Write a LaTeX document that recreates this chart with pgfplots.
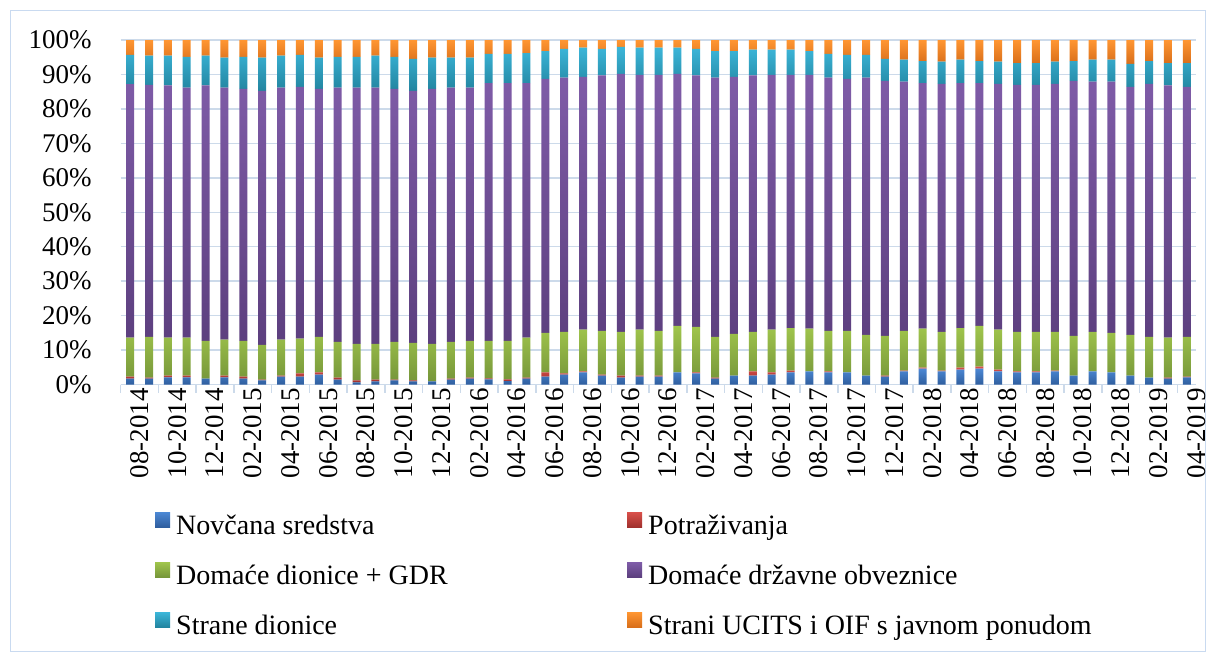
\documentclass[border=0pt]{standalone}
\usepackage{fontspec}
\setmainfont{Liberation Serif}
\usepackage{pgfplots}
\pgfplotsset{compat=1.18}
\usepackage{pgfplotstable}

\definecolor{gridc}{HTML}{CCDAEA}
\definecolor{borderc}{HTML}{C9DAF0}
\definecolor{blueT}{HTML}{4C88D4}
\definecolor{blueB}{HTML}{2F5E9E}
\definecolor{redT}{HTML}{D9504B}
\definecolor{redB}{HTML}{A0302D}
\definecolor{greenT}{HTML}{A0C54C}
\definecolor{greenB}{HTML}{76963A}
\definecolor{purpleT}{HTML}{7F5CA8}
\definecolor{purpleB}{HTML}{5C3F7E}
\definecolor{cyanT}{HTML}{3CB6D9}
\definecolor{cyanB}{HTML}{22849F}
\definecolor{orangeT}{HTML}{FF9632}
\definecolor{orangeB}{HTML}{D86E1A}

\pgfplotstableread{
idx cash recv deq gov feq ucits
0 1.7 0.6 11.3 73.6 8.5 4.3
1 1.7 0.3 11.8 73.2 8.5 4.5
2 2.1 0.5 11.0 73.2 8.7 4.5
3 2.1 0.5 11.0 72.6 8.9 4.9
4 1.7 0.0 11.0 74.1 8.7 4.5
5 2.1 0.5 10.4 73.2 8.7 5.1
6 1.7 0.6 10.4 73.1 9.3 4.9
7 1.2 0.2 10.1 73.7 9.7 5.1
8 2.3 0.3 10.4 73.2 9.3 4.5
9 2.3 0.9 10.1 73.1 9.3 4.3
10 2.9 0.6 10.3 72.0 9.1 5.1
11 1.4 0.6 10.4 73.8 8.9 4.9
12 0.6 0.6 10.6 74.4 8.9 4.9
13 0.9 0.5 10.4 74.4 9.3 4.5
14 1.2 0.2 11.0 73.4 9.3 4.9
15 0.9 0.3 10.9 73.1 9.3 5.5
16 0.9 0.0 10.9 74.0 9.1 5.1
17 1.4 0.3 10.7 73.8 8.7 5.1
18 1.7 0.3 10.7 73.5 8.7 5.1
19 1.5 0.3 10.9 74.8 8.5 4.0
20 1.0 0.5 11.2 74.8 8.5 4.0
21 1.7 0.3 11.6 73.9 8.7 3.8
22 2.3 1.2 11.5 73.7 8.1 3.2
23 2.9 0.3 12.1 73.8 8.3 2.6
24 3.5 0.3 12.1 73.4 8.5 2.2
25 2.6 0.3 12.7 74.1 7.7 2.6
26 2.0 0.6 12.7 74.9 7.8 2.0
27 2.3 0.3 13.3 74.0 7.9 2.2
28 2.3 0.3 13.0 74.3 7.9 2.2
29 3.5 0.0 13.5 73.2 7.6 2.2
30 3.2 0.3 13.2 73.0 7.7 2.6
31 1.7 0.3 11.8 75.3 7.7 3.2
32 2.6 0.0 12.1 74.6 7.5 3.2
33 2.6 1.2 11.5 74.4 7.5 2.8
34 2.9 0.6 12.4 74.0 7.3 2.8
35 3.5 0.5 12.4 73.5 7.3 2.8
36 3.8 0.0 12.4 73.7 6.9 3.2
37 3.5 0.3 11.8 73.5 6.9 4.0
38 3.5 0.0 12.1 73.1 7.0 4.3
39 2.6 0.0 11.8 74.7 6.6 4.3
40 2.3 0.3 11.5 74.0 6.4 5.5
41 3.8 0.2 11.6 72.3 6.4 5.7
42 4.6 0.3 11.3 71.3 6.4 6.1
43 3.8 0.2 11.3 72.0 6.4 6.3
44 4.3 0.6 11.5 71.1 6.8 5.7
45 4.6 0.6 11.8 70.5 6.4 6.1
46 3.8 0.5 11.6 71.4 6.4 6.3
47 3.5 0.3 11.5 71.7 6.3 6.7
48 3.5 0.3 11.5 71.7 6.3 6.7
49 3.8 0.2 11.3 72.0 6.4 6.3
50 2.6 0.0 11.5 74.0 5.8 6.1
51 3.8 0.0 11.5 72.6 6.4 5.7
52 3.5 0.0 11.5 72.9 6.4 5.7
53 2.6 0.0 11.8 72.0 6.7 6.9
54 2.0 0.0 11.8 73.5 6.6 6.1
55 1.7 0.3 11.6 73.2 6.5 6.7
56 2.1 0.2 11.5 72.6 6.9 6.7
}\datatable

\pgfplotsset{
  sq legend/.style={legend image code/.code={\path[##1] (0bp,0.5bp) rectangle (15bp,15.5bp);}},
}

\begin{document}
\begin{tikzpicture}
\fill[white] (0,0) rectangle (1216bp,-652bp);
\draw[borderc, line width=1.5bp] (10.5bp,-10.5bp) rectangle (1205.5bp,-651.5bp);
\begin{axis}[
  scale only axis,
  width=1075.6bp, height=344.5bp,
  at={(120.7bp,-384.5bp)}, anchor=south west,
  ybar stacked, bar width=8bp,
  xmin=-0.5, xmax=56.5, ymin=0, ymax=100,
  axis lines*=left,
  axis line style={-},
  x axis line style={draw=gridc, line width=1.5bp},
  y axis line style={draw=none},
  ytick={0,10,...,100},
  yticklabels={0\%,10\%,20\%,30\%,40\%,50\%,60\%,70\%,80\%,90\%,100\%},
  ytick style={draw=none},
  ymajorgrids,
  grid style={draw=gridc, line width=1.5bp},
  xtick={0,2,...,56},
  xticklabels={08-2014,10-2014,12-2014,02-2015,04-2015,06-2015,08-2015,10-2015,12-2015,02-2016,04-2016,06-2016,08-2016,10-2016,12-2016,02-2017,04-2017,06-2017,08-2017,10-2017,12-2017,02-2018,04-2018,06-2018,08-2018,10-2018,12-2018,02-2019,04-2019},
  minor xtick={-0.5,1.5,...,55.5},
  major tick length=0pt, minor tick length=8bp, tick align=outside,
  minor tick style={draw=gridc, line width=1.5bp},
  x tick label style={rotate=90, anchor=east, yshift=-9.5bp, font=\fontsize{27bp}{28bp}\selectfont},
  y tick label style={xshift=-25.5bp, font=\fontsize{27bp}{28bp}\selectfont},
  legend columns=2,
  legend cell align=left,
  legend style={at={(0,0)}, anchor=north west, xshift=34.3bp, yshift=-127.5bp,
    draw=none, fill=none, inner sep=0pt,
    font=\fontsize{28bp}{30bp}\selectfont, row sep=20.5bp,
    nodes={inner sep=0pt, text height=21bp, text depth=7bp},
    /tikz/every odd column/.append style={column sep=6bp}},
]
\addplot[draw=none, top color=blueT, bottom color=blueB, sq legend] table[x=idx, y=cash] {\datatable};
\addlegendentry{\makebox[451bp][l]{Novčana sredstva}}
\addplot[draw=none, top color=redT, bottom color=redB, sq legend] table[x=idx, y=recv] {\datatable};
\addlegendentry{Potraživanja}
\addplot[draw=none, top color=greenT, bottom color=greenB, sq legend] table[x=idx, y=deq] {\datatable};
\addlegendentry{\makebox[451bp][l]{Domaće dionice + GDR}}
\addplot[draw=none, top color=purpleT, bottom color=purpleB, sq legend] table[x=idx, y=gov] {\datatable};
\addlegendentry{Domaće državne obveznice}
\addplot[draw=none, top color=cyanT, bottom color=cyanB, sq legend] table[x=idx, y=feq] {\datatable};
\addlegendentry{\makebox[451bp][l]{Strane dionice}}
\addplot[draw=none, top color=orangeT, bottom color=orangeB, sq legend] table[x=idx, y=ucits] {\datatable};
\addlegendentry{Strani UCITS i OIF s javnom ponudom}
\end{axis}
\pgfresetboundingbox
\path[use as bounding box] (0,0) rectangle (1216bp,-652bp);
\end{tikzpicture}
\end{document}
